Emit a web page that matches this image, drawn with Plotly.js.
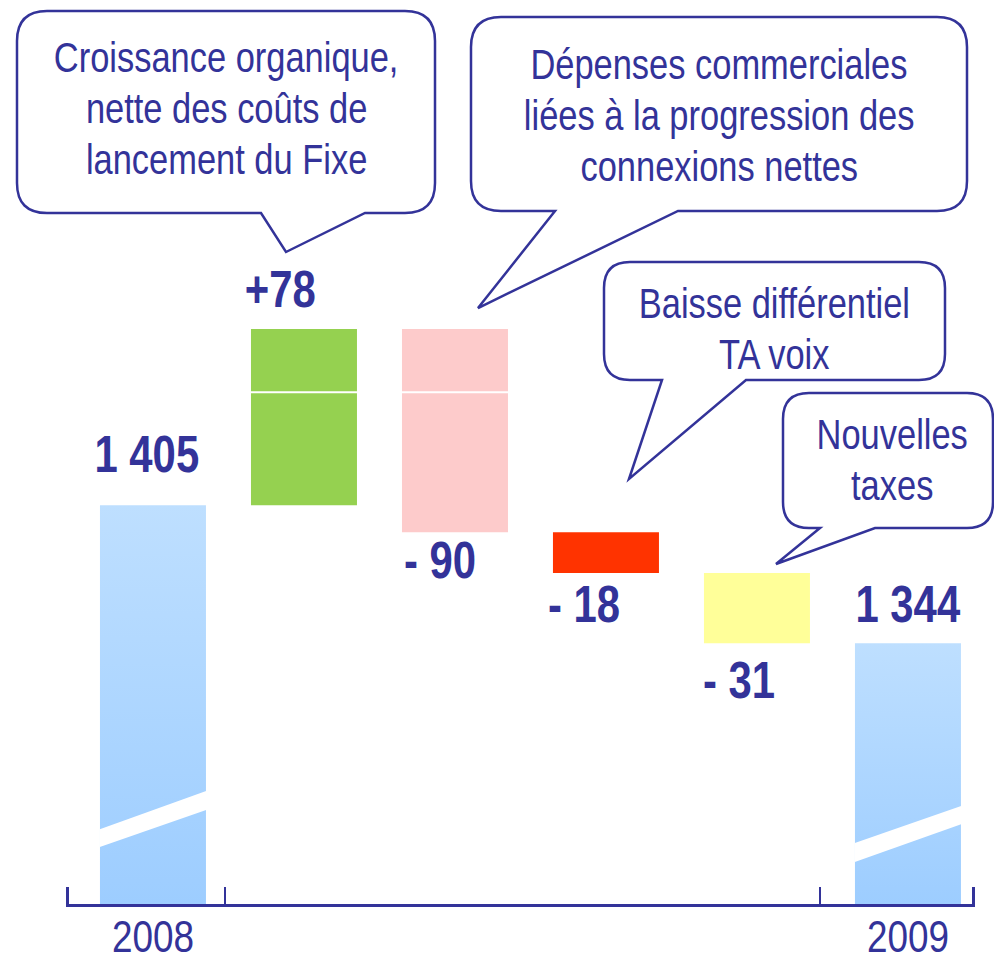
<!DOCTYPE html>
<html>
<head>
<meta charset="utf-8">
<script src="https://cdn.plot.ly/plotly-3.0.1.min.js"></script>
<style>html,body{margin:0;padding:0;background:#ffffff;}</style>
</head>
<body>
<div id="chart" style="width:994px;height:962px;"></div>
<script>
// ---------------- data ----------------
const categories = ["2008", "Croissance organique", "Dépenses commerciales", "Baisse différentiel TA voix", "Nouvelles taxes", "2009"];
const startValue = 1405;
const deltas = [78, -90, -18, -31];
const endValue = 1344;
const yearLabels = ["2008", "2009"];
const barColors = ["#b0d7ff", "#95d150", "#fdcbcb", "#ff3300", "#ffff99", "#b0d7ff"];
const bubbleLines = [
  ["Croissance organique,", "nette des coûts de", "lancement du Fixe"],
  ["Dépenses commerciales", "liées à la progression des", "connexions nettes"],
  ["Baisse différentiel", "TA voix"],
  ["Nouvelles", "taxes"]
];

// ---------------- style ----------------
const W = 994, H = 962;
const NAVY = "#333399";
const FONT = "'Liberation Sans', Arial, sans-serif";
const NARROW = 0.82; // Arial Narrow-like horizontal compression

// build waterfall geometry from data
const xs = categories.map((c, i) => i);
const bases = [0], heights = [startValue], kinds = ["total"];
let cum = startValue;
deltas.forEach(d => {
  bases.push(Math.min(cum, cum + d));
  heights.push(Math.abs(d));
  kinds.push(d >= 0 ? "up" : "down");
  cum += d;
});
bases.push(0); heights.push(endValue); kinds.push("total");
const allValues = [startValue].concat(deltas, [endValue]);

function fmtTotal(v) { return String(v).replace(/\B(?=(\d{3})+(?!\d))/g, " "); }
function labelText(v, k) {
  if (k === "total") return fmtTotal(v);
  return v >= 0 ? "+" + v : "- " + Math.abs(v);
}

const traces = [{
  type: "bar",
  x: xs,
  y: heights,
  base: bases,
  width: 0.702,
  marker: { color: barColors, line: { width: 0 } },
  hoverinfo: "skip",
  showlegend: false
}, {
  // carrier for the overlay tick-mark axis
  type: "scatter", x: [500], y: [1300], xaxis: "x2", yaxis: "y",
  mode: "markers", marker: { opacity: 0 }, hoverinfo: "skip", showlegend: false
}];

// value labels anchored on bars
const labelShift = [[-6, 51], [-23, 39], [-15, -28], [-22, -31], [-18, -37], [0, 39]];
const annotations = [];
allValues.forEach((v, i) => {
  const k = kinds[i];
  const anchorY = (k === "down") ? bases[i] : bases[i] + heights[i];
  annotations.push({
    x: xs[i], y: anchorY, xref: "x", yref: "y",
    text: labelText(v, k), showarrow: false,
    xanchor: "center", yanchor: "middle",
    xshift: labelShift[i][0], yshift: labelShift[i][1],
    font: { family: FONT, size: 51, color: NAVY, weight: "bold" }
  });
});

// speech bubbles (pixel geometry -> paper coords)
function P(x, y) { return (x / W).toFixed(5) + "," + (1 - y / H).toFixed(5); }
function bubblePath(l, t, r, b, rad, tbl, tipx, tipy, tbr) {
  return "M" + P(l + rad, t) + " L" + P(r - rad, t) + " Q" + P(r, t) + " " + P(r, t + rad) +
    " L" + P(r, b - rad) + " Q" + P(r, b) + " " + P(r - rad, b) +
    " L" + P(tbr, b) + " L" + P(tipx, tipy) + " L" + P(tbl, b) +
    " L" + P(l + rad, b) + " Q" + P(l, b) + " " + P(l, b - rad) +
    " L" + P(l, t + rad) + " Q" + P(l, t) + " " + P(l + rad, t) + " Z";
}
const bubbleGeom = [
  { box: [17, 11, 435, 213, 30], tail: [261, 286, 252, 365], cx: 226, lineY: [58, 109, 159] },
  { box: [471, 17, 967, 211, 30], tail: [555, 478, 308, 678], cx: 719, lineY: [64, 115, 166] },
  { box: [604, 262, 945, 380, 26], tail: [662, 629, 479, 746], cx: 774, lineY: [303, 355] },
  { box: [783, 393, 993, 528, 26], tail: [820, 776, 564, 875], cx: 892, lineY: [435, 485] }
];
const shapes = [];
bubbleGeom.forEach((g, bi) => {
  const [l, t, r, b, rad] = g.box;
  const [tbl, tx, ty, tbr] = g.tail;
  shapes.push({
    type: "path", xref: "paper", yref: "paper",
    path: bubblePath(l, t, r, b, rad, tbl, tx, ty, tbr),
    fillcolor: "#ffffff", line: { color: NAVY, width: 2.5 }, layer: "above"
  });
  bubbleLines[bi].forEach((txt, li) => {
    annotations.push({
      x: g.cx / W, y: 1 - g.lineY[li] / H, xref: "paper", yref: "paper",
      text: txt, showarrow: false, xanchor: "center", yanchor: "middle",
      font: { family: FONT, size: 42, color: NAVY }
    });
  });
});

// axis break stripes on the total bars (decoration)
const hw = 0.352;
[[0, 1253.8, 1261.7, 1270.2, 1278.6], [5, 1247.2, 1255.6, 1263.9, 1271.9]].forEach(s => {
  const [i, lb, lt, rb, rt] = s;
  shapes.push({
    type: "path", xref: "x", yref: "y",
    path: `M${i - hw},${lb} L${i - hw},${lt} L${i + hw},${rt} L${i + hw},${rb} Z`,
    fillcolor: "#ffffff", line: { width: 0 }, layer: "above"
  });
});
// thin white line through the two first variation bars
shapes.push({
  type: "line", xref: "x", yref: "y", x0: 1 - hw, x1: 2 + hw, y0: 1455, y1: 1455,
  line: { color: "#ffffff", width: 2 }, layer: "above"
});

const xRange = [-0.576, 5.444];
const layout = {
  width: W, height: H,
  margin: { l: 0, r: 0, t: 0, b: 0, pad: 0 },
  paper_bgcolor: "#ffffff", plot_bgcolor: "#ffffff",
  showlegend: false,
  xaxis: {
    domain: [66 / W, 975 / W], range: xRange, fixedrange: true,
    tickmode: "array", tickvals: [0, 5], ticktext: yearLabels,
    ticks: "", showgrid: false, zeroline: false,
    showline: true, linecolor: NAVY, linewidth: 2.5,
    tickfont: { family: FONT, size: 45, color: NAVY },
    ticklabelstandoff: -9
  },
  xaxis2: {
    overlaying: "x", anchor: "y", side: "bottom", range: [66, 975], fixedrange: true,
    tickmode: "array", tickvals: [67.5, 225, 820, 973.5],
    ticks: "inside", ticklen: 17, tickwidth: 2.5, tickcolor: NAVY,
    showticklabels: false, showgrid: false, zeroline: false, showline: false
  },
  yaxis: {
    domain: [(H - 904) / H, 1], range: [1228.6, 1628.5], fixedrange: true,
    visible: false, showgrid: false, zeroline: false
  },
  shapes: shapes,
  annotations: annotations
};

const gd = document.getElementById("chart");
Plotly.newPlot(gd, traces, layout, { displayModeBar: false, staticPlot: true }).then(() => {
  // condense the Arial-like glyphs horizontally, as in the original narrow typeface
  document.querySelectorAll("#chart .annotation-text, #chart .xtick text").forEach(el => {
    const len = el.getComputedTextLength();
    if (len > 0) {
      el.setAttribute("textLength", (len * NARROW).toFixed(2));
      el.setAttribute("lengthAdjust", "spacingAndGlyphs");
    }
  });
  // soft vertical gradient on the two total bars (from bar top down to the axis)
  const NS = "http://www.w3.org/2000/svg";
  const svg = document.querySelector("#chart svg.main-svg");
  let defs = svg.querySelector("defs");
  if (!defs) { defs = document.createElementNS(NS, "defs"); svg.insertBefore(defs, svg.firstChild); }
  const ya = gd._fullLayout.yaxis;
  const pts = document.querySelectorAll("#chart .barlayer .point path");
  kinds.forEach((k, i) => {
    if (k !== "total" || !pts[i]) return;
    const topPx = ya.l2p(bases[i] + heights[i]);
    const lg = document.createElementNS(NS, "linearGradient");
    lg.setAttribute("id", "totalGrad" + i);
    lg.setAttribute("gradientUnits", "userSpaceOnUse");
    lg.setAttribute("x1", "0"); lg.setAttribute("y1", String(topPx));
    lg.setAttribute("x2", "0"); lg.setAttribute("y2", String(ya._length));
    [["0", "#bedfff"], ["1", "#9dcdff"]].forEach(([o, c]) => {
      const st = document.createElementNS(NS, "stop");
      st.setAttribute("offset", o); st.setAttribute("stop-color", c);
      lg.appendChild(st);
    });
    defs.appendChild(lg);
    pts[i].style.fill = "url(#totalGrad" + i + ")";
  });
});
</script>
</body>
</html>
